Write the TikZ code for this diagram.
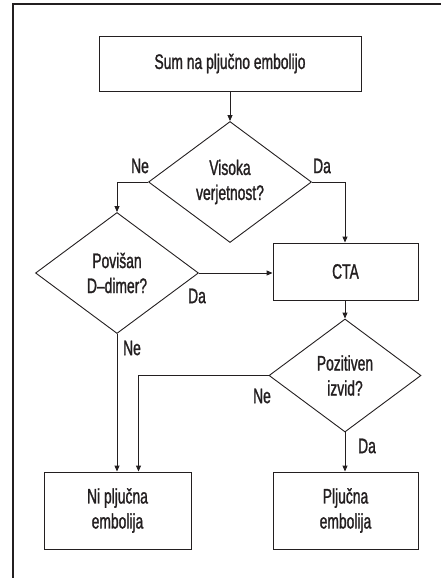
\documentclass[tikz,border=0pt]{standalone}
\usepackage{fontspec}
\setmainfont{Liberation Sans}[FakeStretch=0.66,FakeBold=1.2]
\usetikzlibrary{shapes.geometric,arrows.meta}
\definecolor{ink}{HTML}{231F20}
\begin{document}
\begin{tikzpicture}[x=1pt,y=-1pt,
  font=\fontsize{21}{25}\selectfont,
  every node/.style={text=ink},
  box/.style={draw=ink,line width=0.9pt,rectangle,inner sep=0pt,align=center},
  decision/.style={draw=ink,line width=0.9pt,diamond,inner sep=0pt,align=center},
  flow/.style={draw=ink,line width=0.9pt,-{Triangle[length=6pt,width=5pt]}},
  answer/.style={inner sep=0pt}]
\useasboundingbox (0,0) rectangle (441,578);
% partial outer frame
\draw[ink,line width=2pt] (13,578) -- (13,4.5) -- (441,4.5);

% boxes and decisions
\node[box,minimum width=262pt,minimum height=55pt] (start) at (230,63.5) {Sum na pljučno embolijo};
\node[decision,minimum width=163pt,minimum height=121pt] (prob) at (230,182) {Visoka\\verjetnost?};
\node[decision,minimum width=163pt,minimum height=121pt] (ddim) at (117,273) {Povišan\\D–dimer?};
\node[box,minimum width=145pt,minimum height=57pt] (cta) at (345.5,271.5) {CTA};
\node[decision,minimum width=152pt,minimum height=113pt] (pos) at (345,375.5) {Pozitiven\\izvid?};
\node[box,minimum width=147pt,minimum height=77pt] (none) at (117.5,510.5) {Ni pljučna\\embolija};
\node[box,minimum width=145pt,minimum height=77pt] (pe) at (345.5,510.5) {Pljučna\\embolija};

% connectors
\draw[flow] (start.south) -- (prob.north);
\draw[flow] (prob.west) -| (ddim.north);
\draw[flow] (prob.east) -| ([xshift=-0.5pt]cta.north);
\draw[flow] (ddim.east) -- (ddim.east -| cta.west);
\draw[flow] ([xshift=-0.5pt]cta.south) -- (pos.north);
\draw[flow] (ddim.south) -- (ddim.south |- none.north);
\draw[flow] (pos.west) -| ([xshift=21pt]none.north);
\draw[flow] (pos.south) -- (pos.south |- pe.north);

% answer labels
\node[answer] (l1) at (140,166) {Ne};
\node[answer] (l2) at (322,166) {Da};
\node[answer] (l3) at (197,296) {Da};
\node[answer] (l4) at (132,348) {Ne};
\node[answer] (l5) at (262,396) {Ne};
\node[answer] (l6) at (367,446) {Da};
\end{tikzpicture}
\end{document}
